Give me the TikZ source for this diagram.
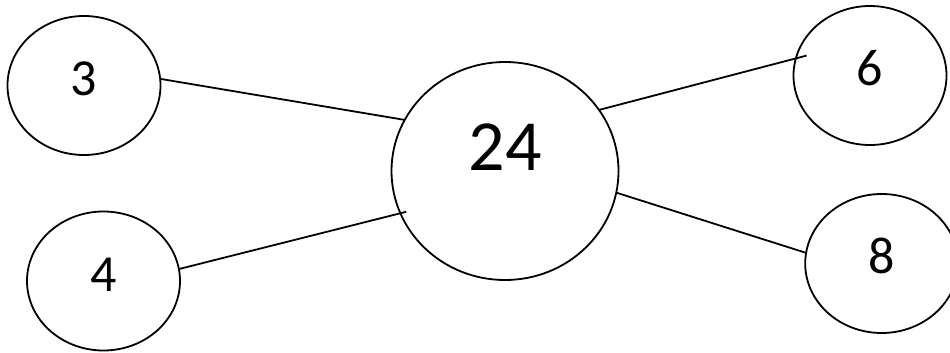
\documentclass[tikz,border=0pt]{standalone}
\usepackage{fontspec}
\setmainfont{Carlito}
\usetikzlibrary{shapes.geometric}
\tikzset{
  bubble/.style={draw, ellipse, line width=1.8pt, inner sep=0pt, outer sep=0pt,
    minimum width=153pt, minimum height=139pt},
  bigbubble/.style={bubble, minimum width=227pt, minimum height=218pt},
  numlbl/.style={font=\fontsize{52}{60}\selectfont},
  biglbl/.style={font=\fontsize{72}{80}\selectfont},
  link/.style={line width=1.8pt}
}
\begin{document}
\begin{tikzpicture}[x=1pt,y=-1pt]
\useasboundingbox (0,0) rectangle (950,353);
\node[bubble, label={[numlbl, yshift=7pt]center:3}] (n3) at (84,85.5) {};
\node[bubble, label={[numlbl, yshift=6pt]center:4}] (n4) at (103.5,281) {};
\node[bigbubble, label={[biglbl, yshift=24pt]center:24}] (n24) at (505,171) {};
\node[bubble, label={[numlbl, yshift=7pt]center:6}] (n6) at (870,75.5) {};
\node[bubble, label={[numlbl, yshift=8pt]center:8}] (n8) at (881.7,263.5) {};
\draw[link] (n3.5.4) -- (n24.153);
\draw[link, shorten >=-6pt] (n4.9.4) -- (n24.202.8);
\draw[link, shorten >=-11pt] (n24.33) -- (n6.167.7);
\draw[link] (n24.-11.6) -- (n8.172.9);
\end{tikzpicture}
\end{document}
